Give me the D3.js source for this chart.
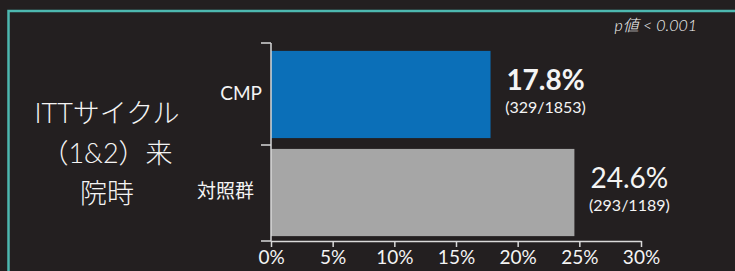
<!DOCTYPE html>
<html>
<head>
<meta charset="utf-8">
<script src="https://cdn.jsdelivr.net/npm/d3@7"></script>
<style>
  html, body { margin: 0; padding: 0; background: #231f20; }
  svg { display: block; }
  text { font-family: Lato, "Noto Sans CJK JP", sans-serif; fill: #f4f4f4; }
</style>
</head>
<body>
<svg id="chart" width="735" height="271"></svg>
<script>
// data
var categories = ["CMP", "対照群"];
var values = [17.8, 24.6];
var counts = ["(329/1853)", "(293/1189)"];
var xTicks = [0, 5, 10, 15, 20, 25, 30];
var titleLines = ["ITTサイクル", "（1&2）来", "院時"];
var pText = "p値 < 0.001";

var svg = d3.select("#chart"),
    width = +svg.attr("width"),
    height = +svg.attr("height");

var margin = {left: 271, top: 43, right: 94, bottom: 30};

var colors = ["#0b6fb8", "#a6a6a6"];

svg.append("rect")
    .attr("width", width)
    .attr("height", height)
    .attr("fill", "#231f20");

// teal frame (only left and top visible)
svg.append("rect")
    .attr("x", 8.5)
    .attr("y", 11)
    .attr("width", 760)
    .attr("height", 300)
    .attr("fill", "none")
    .attr("stroke", "#4db8b0")
    .attr("stroke-width", 2.5);

var x = d3.scaleLinear()
    .domain([0, 30])
    .range([margin.left, width - margin.right]);

var y = d3.scaleBand()
    .domain(categories)
    .range([margin.top, height - margin.bottom])
    .paddingInner(0.1)
    .paddingOuter(0.06);

var data = categories.map(function (c, i) {
    return {cat: c, value: values[i], count: counts[i], color: colors[i]};
});

// bars (nudged 2px down like the original)
svg.selectAll(".bar")
    .data(data)
    .enter().append("rect")
    .attr("class", "bar")
    .attr("x", x(0))
    .attr("y", function (d) { return y(d.cat) + 2; })
    .attr("width", function (d) { return x(d.value) - x(0); })
    .attr("height", y.bandwidth() - 1)
    .attr("fill", function (d) { return d.color; });

// value labels
var lab = svg.selectAll(".lab")
    .data(data)
    .enter().append("g")
    .attr("class", "lab")
    .attr("transform", function (d) {
        return "translate(" + (x(d.value) + 55) + "," + (y(d.cat) + y.bandwidth() / 2) + ")";
    });

lab.append("text")
    .attr("text-anchor", "middle")
    .attr("y", -3)
    .style("font-size", "28px")
    .style("font-weight", function (d, i) { return i == 0 ? "bold" : "normal"; })
    .text(function (d) { return d.value.toFixed(1) + "%"; });

lab.append("text")
    .attr("text-anchor", "middle")
    .attr("y", 20)
    .style("font-size", "16px")
    .text(function (d) { return d.count; });

// y axis: ticks between categories
var y0 = y.range()[0], y1 = y.range()[1];
var bounds = [y0, y(categories[1]) - y.step() * y.paddingInner() / 2 + 3, y1];
var axisColor = "#d9d9d9";

svg.append("line")
    .attr("x1", x(0)).attr("x2", x(0))
    .attr("y1", y0).attr("y2", y1)
    .attr("stroke", axisColor).attr("stroke-width", 1.5);

svg.selectAll(".ytick")
    .data(bounds)
    .enter().append("line")
    .attr("class", "ytick")
    .attr("x1", x(0) - 10).attr("x2", x(0))
    .attr("y1", function (d) { return d; })
    .attr("y2", function (d) { return d; })
    .attr("stroke", axisColor).attr("stroke-width", 1.5);

svg.selectAll(".ylab")
    .data(categories)
    .enter().append("text")
    .attr("class", "ylab")
    .attr("x", function (d, i) { return x(0) - (i == 0 ? 9 : 17); })
    .attr("y", function (d) { return y(d) + y.bandwidth() / 2; })
    .attr("dy", "0.35em")
    .attr("text-anchor", "end")
    .style("font-size", "19px")
    .text(function (d) { return d; });

// x axis
var xAxis = svg.append("g")
    .attr("transform", "translate(0," + y1 + ")")
    .call(d3.axisBottom(x)
        .tickValues(xTicks)
        .tickSize(6)
        .tickSizeOuter(0)
        .tickPadding(4)
        .tickFormat(function (d) { return d + "%"; }));

xAxis.select(".domain").attr("stroke", axisColor).attr("stroke-width", 1.5);
xAxis.selectAll(".tick line").attr("stroke", axisColor).attr("stroke-width", 1.5);
xAxis.selectAll(".tick text")
    .style("font-size", "19px")
    .attr("fill", "#f4f4f4")
    .style("font-family", "Lato, sans-serif");

// title on the left
svg.selectAll(".title")
    .data(titleLines)
    .enter().append("text")
    .attr("class", "title")
    .attr("x", 107)
    .attr("y", function (d, i) { return 123 + i * 40; })
    .attr("text-anchor", "middle")
    .style("font-size", "27px")
    .style("font-weight", "300")
    .text(function (d) { return d; });

// p value
svg.append("text")
    .attr("x", 697)
    .attr("y", 31)
    .attr("text-anchor", "end")
    .style("font-size", "16px")
    .style("font-style", "italic")
    .style("font-weight", "300")
    .text(pText);
</script>
</body>
</html>
